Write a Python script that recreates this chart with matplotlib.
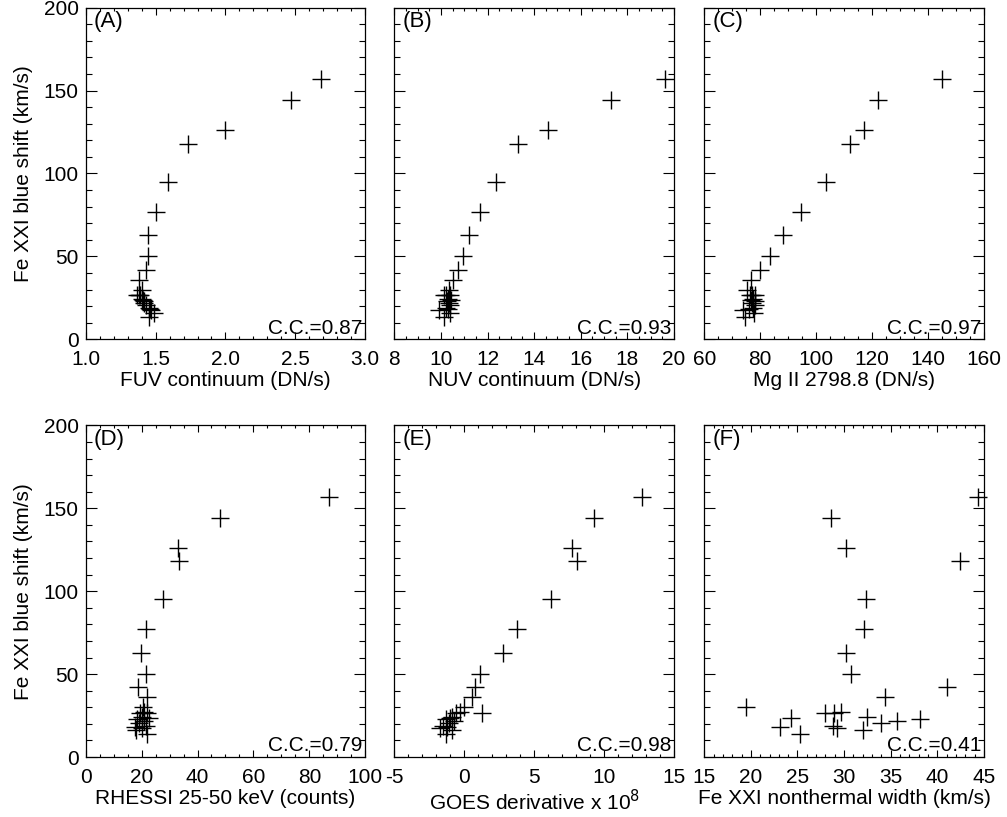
import numpy as np
import matplotlib
matplotlib.use('Agg')
import matplotlib.pyplot as plt
from matplotlib.ticker import MultipleLocator, FormatStrFormatter

plt.rcParams['font.family'] = ['Liberation Sans', 'DejaVu Sans']
plt.rcParams['axes.unicode_minus'] = False

#Fe XXI blue shift (km/s), same points in every panel
blueshift = [157, 144, 126, 118, 95, 77, 63, 50, 42, 36, 30, 27, 26.6, 26.6,
             24.4, 23.6, 22.8, 21.6, 20.4, 18.6, 18, 17.4, 16, 13.6]

fuv = [2.68, 2.47, 2.00, 1.73, 1.59, 1.50, 1.445, 1.445, 1.43, 1.38, 1.40, 1.37, 1.38, 1.39,
       1.40, 1.41, 1.42, 1.42, 1.43, 1.45, 1.46, 1.47, 1.49, 1.45]
nuv = [19.6, 17.3, 14.6, 13.3, 12.36, 11.67, 11.21, 10.96, 10.74, 10.53, 10.35, 10.2, 10.4, 10.15,
       10.3, 10.45, 10.25, 10.35, 10.4, 10.2, 10.3, 9.93, 10.4, 10.14]
mg2 = [145, 122, 117, 112, 103.7, 94.5, 88.2, 83.5, 80.1, 76.7, 75.3, 77.0, 76.2, 78.0,
       77.4, 76.6, 78.3, 77.2, 78.2, 77.6, 76.0, 74.0, 77.8, 74.6]
rhessi = [87, 48, 33, 33.5, 27.5, 21.5, 19.7, 21.5, 18.8, 21.8, 20.5, 21.0, 19.5, 21.8,
          20.0, 22.5, 18.5, 20.8, 19.0, 21.5, 17.5, 20.0, 18.0, 21.8]
goes = [12.7, 9.3, 7.7, 8.1, 6.2, 3.8, 2.75, 1.1, 0.75, 0.55, 0.0, -0.3, 1.25, -0.6,
        -0.9, -1.0, -1.3, -0.7, -1.1, -1.5, -1.2, -1.7, -0.9, -1.3]
width = [44.4, 28.6, 30.2, 42.4, 32.4, 32.1, 30.2, 30.7, 41.0, 34.4, 19.5, 29.7, 28.9, 28.0,
         32.5, 24.3, 38.1, 35.7, 34.0, 28.8, 23.1, 29.2, 32.0, 25.25]

#Panel settings
series = [fuv, nuv, mg2, rhessi, goes, width]
letters = ['(A)', '(B)', '(C)', '(D)', '(E)', '(F)']
ccs = ['0.87', '0.93', '0.97', '0.79', '0.98', '0.41']
xlabels = ['FUV continuum (DN/s)', 'NUV continuum (DN/s)', 'Mg II 2798.8 (DN/s)',
           'RHESSI 25-50 keV (counts)', 'GOES derivative x 10$^8$',
           'Fe XXI nonthermal width (km/s)']
xlims = [(1.0, 3.0), (8, 20), (60, 160), (0, 100), (-5, 15), (15, 45)]
xmajor = [0.5, 2, 20, 20, 5, 5]
xminor = [0.1, 0.5, 5, 5, 1, 1]
xfmt = ['%.1f', '%d', '%d', '%d', '%d', '%d']

fig = plt.figure(figsize=(10.07, 8.17), dpi=100)
lefts = [0.0851, 0.3916, 0.6994]
bottoms = [0.5847, 0.0734]
w, h = 0.2776, 0.4060

for i in range(6):
    ax = fig.add_axes([lefts[i % 3], bottoms[i // 3], w, h])
    ax.plot(series[i], blueshift, '+', color='black', markersize=13, mew=1.0, clip_on=False)
    ax.set_xlim(*xlims[i])
    ax.set_ylim(0, 200)
    ax.xaxis.set_major_locator(MultipleLocator(xmajor[i]))
    ax.xaxis.set_minor_locator(MultipleLocator(xminor[i]))
    ax.xaxis.set_major_formatter(FormatStrFormatter(xfmt[i]))
    ax.yaxis.set_major_locator(MultipleLocator(50))
    ax.yaxis.set_minor_locator(MultipleLocator(10))
    ax.tick_params(axis='both', which='both', direction='in', top=True, right=True,
                   labelsize=15, width=0.8, colors='black')
    ax.tick_params(axis='x', which='major', length=5, pad=8)
    ax.tick_params(axis='x', which='minor', length=2.5)
    ax.tick_params(axis='y', which='major', length=8, pad=5)
    ax.tick_params(axis='y', which='minor', length=4)
    for s in ax.spines.values():
        s.set_linewidth(0.9)
    if i % 3 != 0:
        ax.set_yticklabels([])
    else:
        ax.set_ylabel('Fe XXI blue shift (km/s)', fontsize=15, labelpad=8)
    ax.set_xlabel(xlabels[i], fontsize=15, labelpad=1)
    ax.text(0.03, 0.99, letters[i], transform=ax.transAxes, fontsize=16,
            ha='left', va='top')
    ax.text(0.99, 0.005, 'C.C.=' + ccs[i], transform=ax.transAxes, fontsize=15,
            ha='right', va='bottom')

plt.savefig('out.png', dpi=100)
